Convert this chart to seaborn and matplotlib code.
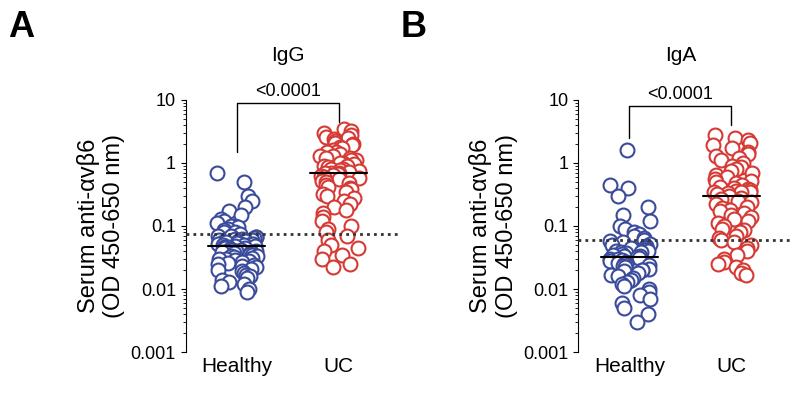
import numpy as np
import pandas as pd
import matplotlib
matplotlib.use("Agg")
import matplotlib.pyplot as plt
import seaborn as sns

sns.set_style("ticks")
plt.rcParams['font.family'] = ['Liberation Sans', 'DejaVu Sans']
for k in ["text.color", "axes.labelcolor", "xtick.color", "ytick.color", "axes.edgecolor"]:
    plt.rcParams[k] = "black"

groups = ["Healthy", "UC"]

igg_healthy = [0.7, 0.5, 0.3, 0.25, 0.2, 0.17, 0.15, 0.13, 0.12, 0.11, 0.1, 0.1, 0.095, 0.09,
               0.085, 0.08, 0.08, 0.075, 0.07, 0.07, 0.068, 0.066, 0.065, 0.063, 0.062, 0.06,
               0.06, 0.059, 0.058, 0.057, 0.056, 0.055, 0.054, 0.053, 0.052, 0.052, 0.051, 0.05,
               0.05, 0.049, 0.048, 0.047, 0.046, 0.045, 0.044, 0.043, 0.042, 0.041, 0.04, 0.04,
               0.039, 0.038, 0.037, 0.036, 0.035, 0.034, 0.033, 0.032, 0.031, 0.03, 0.03, 0.029,
               0.028, 0.027, 0.026, 0.025, 0.024, 0.023, 0.022, 0.021, 0.02, 0.019, 0.018, 0.017,
               0.016, 0.015, 0.014, 0.013, 0.012, 0.011, 0.01, 0.009]
igg_uc = [3.5, 3.2, 3.0, 2.8, 2.6, 2.5, 2.4, 2.2, 2.1, 2.0, 1.9, 1.8, 1.7, 1.6, 1.5, 1.5, 1.4,
          1.3, 1.3, 1.2, 1.2, 1.1, 1.1, 1.0, 1.0, 0.95, 0.9, 0.9, 0.85, 0.8, 0.8, 0.78, 0.75,
          0.72, 0.7, 0.7, 0.68, 0.66, 0.64, 0.62, 0.6, 0.58, 0.55, 0.52, 0.5, 0.48, 0.45, 0.42,
          0.4, 0.38, 0.35, 0.32, 0.3, 0.28, 0.25, 0.22, 0.2, 0.18, 0.16, 0.14, 0.12, 0.1, 0.09,
          0.08, 0.07, 0.06, 0.05, 0.045, 0.04, 0.035, 0.03, 0.025, 0.022]
iga_healthy = [1.6, 0.45, 0.4, 0.3, 0.2, 0.15, 0.12, 0.1, 0.09, 0.08, 0.075, 0.07, 0.065, 0.06,
               0.058, 0.055, 0.052, 0.05, 0.048, 0.046, 0.045, 0.044, 0.042, 0.041, 0.04, 0.04,
               0.039, 0.038, 0.037, 0.036, 0.035, 0.034, 0.033, 0.032, 0.031, 0.03, 0.03, 0.029,
               0.028, 0.027, 0.026, 0.025, 0.025, 0.024, 0.023, 0.022, 0.021, 0.02, 0.02, 0.019,
               0.018, 0.017, 0.016, 0.015, 0.014, 0.013, 0.012, 0.011, 0.01, 0.009, 0.008,
               0.007, 0.006, 0.005, 0.004, 0.003]
iga_uc = [2.8, 2.5, 2.3, 2.1, 1.9, 1.7, 1.5, 1.4, 1.3, 1.2, 1.1, 1.0, 0.9, 0.85, 0.8, 0.75,
          0.7, 0.65, 0.6, 0.55, 0.52, 0.5, 0.48, 0.45, 0.42, 0.4, 0.38, 0.37, 0.36, 0.35, 0.35,
          0.34, 0.33, 0.32, 0.3, 0.28, 0.27, 0.25, 0.24, 0.22, 0.2, 0.19, 0.18, 0.17, 0.16,
          0.15, 0.14, 0.13, 0.12, 0.11, 0.1, 0.09, 0.085, 0.08, 0.07, 0.065, 0.06, 0.055, 0.05,
          0.045, 0.04, 0.035, 0.03, 0.027, 0.025, 0.022, 0.02, 0.018, 0.017]

panels = [
    ("A", "IgG", igg_healthy, igg_uc, 0.075, (1.5, 9.0, 4.5)),
    ("B", "IgA", iga_healthy, iga_uc, 0.06, (2.5, 8.0, 4.0)),
]
colors = {"Healthy": "#3b4b9b", "UC": "#d63a35"}

fig = plt.figure(figsize=(8, 4.09), dpi=100)
lefts = [0.232, 0.723]
for (letter, title, h, u, cutoff, br), left in zip(panels, lefts):
    ax = fig.add_axes([left, 0.139, 0.255, 0.617])
    ax.set_yscale("log")
    ax.set_ylim(0.001, 10)
    df = pd.DataFrame({"group": ["Healthy"] * len(h) + ["UC"] * len(u), "val": h + u})
    for g in groups:
        sub = df[df.group == g]
        sns.stripplot(data=sub, x="group", y="val", order=groups, ax=ax, size=10,
                      jitter=0.2, color="white", edgecolor=colors[g], linewidth=1.5)
    for i, vals in enumerate([h, u]):
        m = np.median(vals)
        ax.plot([i - 0.28, i + 0.28], [m, m], color="black", lw=1.5, zorder=5)
    ax.set_xlim(-0.5, 1.5)
    ax.plot([-0.5, 1.6], [cutoff, cutoff], ls=(0, (1, 1.5)), color="#333333", lw=2,
            clip_on=False, zorder=6)
    ax.plot([0, 0, 1, 1], [br[0], br[1], br[1], br[2]], color="black", lw=1, clip_on=False)
    ax.text(0.5, br[1] * 1.1, "<0.0001", ha="center", va="bottom", fontsize=13)
    ax.set_title(title, fontsize=15, pad=28)
    ax.set_yticks([0.001, 0.01, 0.1, 1, 10])
    ax.set_yticklabels(["0.001", "0.01", "0.1", "1", "10"], fontsize=13)
    ax.tick_params(axis="x", length=0, labelsize=15)
    ax.set_xlabel("")
    ax.set_ylabel("Serum anti-\u03b1v\u03b26\n(OD 450-650 nm)", fontsize=17)
    sns.despine(ax=ax, bottom=True)
    fig.text(left - 0.222, 0.91, letter, fontsize=26, fontweight="bold")

fig.savefig("out.png", dpi=100)
